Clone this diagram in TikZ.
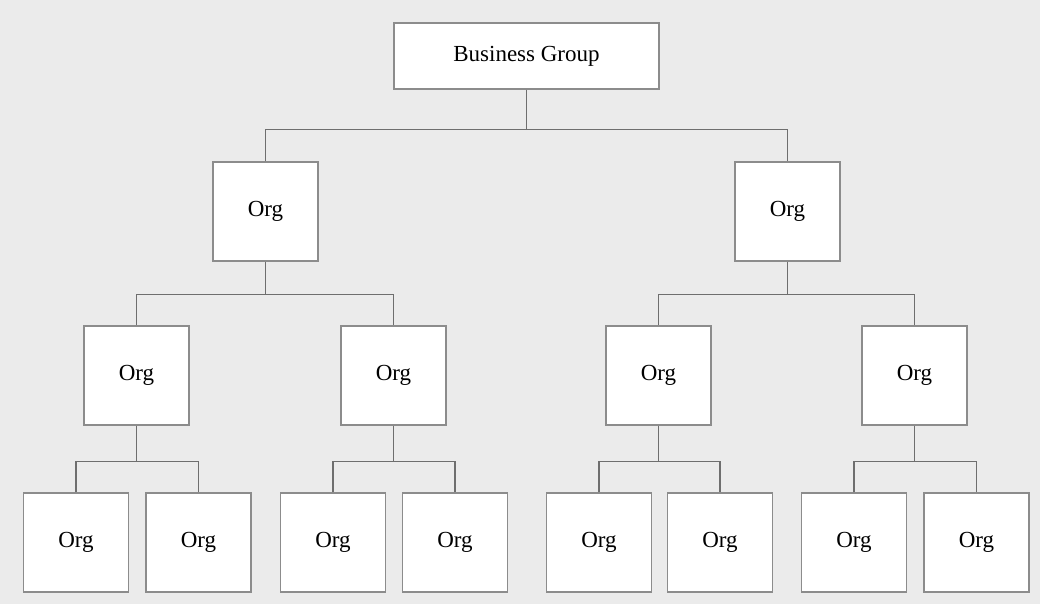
\documentclass[tikz,border=0pt]{standalone}
\usepackage{fontspec}
\setmainfont{Liberation Serif}
\definecolor{bgcol}{HTML}{EBEBEB}
\definecolor{boxline}{HTML}{8C8C8C}
\definecolor{connline}{HTML}{6E6E6E}
\begin{document}
\begin{tikzpicture}[x=1pt,y=-1pt,
  box/.style={draw=boxline,line width=1.3pt,fill=white,inner sep=0pt,
    font=\fontsize{23}{26}\selectfont,text=black},
  org/.style={box,minimum width=105pt,minimum height=99pt},
  conn/.style={draw=connline,line width=1.6pt}]
\fill[bgcol] (0,0) rectangle (1040,604);
\useasboundingbox (0,0) rectangle (1040,604);
% nodes
\node[box,minimum width=265pt,minimum height=66pt] (bg) at (526.5,56) {Business Group};
\node[org] (a) at (265.5,211.5) {Org};
\node[org] (b) at (787.5,211.5) {Org};
\node[org] (a1) at (136.5,375.5) {Org};
\node[org] (a2) at (393.5,375.5) {Org};
\node[org] (b1) at (658.5,375.5) {Org};
\node[org] (b2) at (914.5,375.5) {Org};
\node[org] (a11) at (76,542.5) {Org};
\node[org] (a12) at (198.5,542.5) {Org};
\node[org] (a21) at (333,542.5) {Org};
\node[org] (a22) at (455,542.5) {Org};
\node[org] (b11) at (599,542.5) {Org};
\node[org] (b12) at (720,542.5) {Org};
\node[org] (b21) at (854,542.5) {Org};
\node[org] (b22) at (976.5,542.5) {Org};
% connectors
\draw[conn] (bg.south) -- ++(0,40) coordinate (j0);
\draw[conn] (a.north) |- (j0) -| (b.north);
\draw[conn] (a.south) -- ++(0,33) coordinate (ja);
\draw[conn] (a1.north) |- (ja) -| (a2.north);
\draw[conn] (b.south) -- ++(0,33) coordinate (jb);
\draw[conn] (b1.north) |- (jb) -| (b2.north);
\draw[conn] (a1.south) -- ++(0,36) coordinate (ja1);
\draw[conn] (a11.north) |- (ja1) -| (a12.north);
\draw[conn] (a2.south) -- ++(0,36) coordinate (ja2);
\draw[conn] (a21.north) |- (ja2) -| (a22.north);
\draw[conn] (b1.south) -- ++(0,36) coordinate (jb1);
\draw[conn] (b11.north) |- (jb1) -| (b12.north);
\draw[conn] (b2.south) -- ++(0,36) coordinate (jb2);
\draw[conn] (b21.north) |- (jb2) -| (b22.north);
\end{tikzpicture}
\end{document}
